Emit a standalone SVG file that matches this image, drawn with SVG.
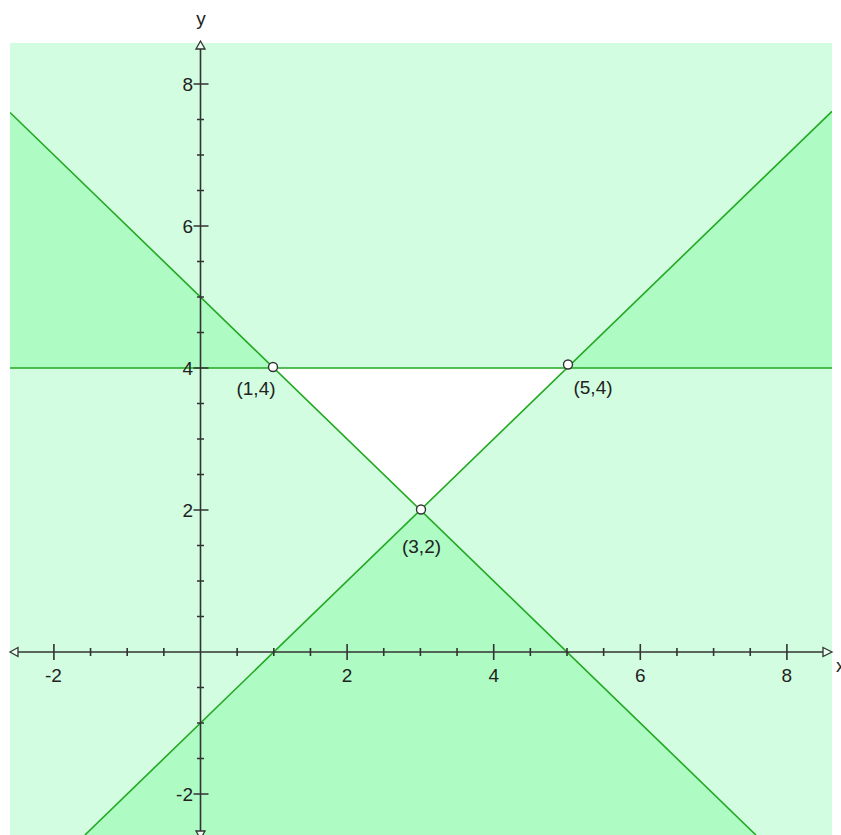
<svg xmlns="http://www.w3.org/2000/svg" width="841" height="835" viewBox="0 0 841 835">
<style>
.lbl{font-family:"Liberation Sans",Arial,sans-serif;font-size:19px;fill:#222}
.mid{text-anchor:middle}
.end{text-anchor:end}
.bound{stroke:#22a822;stroke-width:1.6;fill:none}
.axis{stroke:#333;stroke-width:1.6;fill:none}
.arrow{stroke:#333;stroke-width:1.3;fill:#e8fff0}
.pt{fill:#fff;stroke:#333;stroke-width:1.4}
</style>
<defs>
<clipPath id="plot"><rect x="10" y="43" width="822" height="792"/></clipPath>
</defs>
<rect width="841" height="835" fill="#fff"/>
<g id="regions" clip-path="url(#plot)">
<rect x="10" y="43" width="822" height="792" fill="#d3fde0"/>
<polygon points="273.8,368 567,368 420.4,510" fill="#fff"/>
<polygon points="10,112.5 273.8,368 10,368" fill="#aefbc4"/>
<polygon points="567,368 832,111.3 832,368" fill="#aefbc4"/>
<polygon points="420.4,510 755.9,835 84.9,835" fill="#aefbc4"/>
</g>
<g id="connectors" clip-path="url(#plot)">
<line class="bound" x1="10" y1="112.5" x2="755.9" y2="835"/>
<line class="bound" x1="84.9" y1="835" x2="832" y2="111.3"/>
<line class="bound" x1="10" y1="368" x2="832" y2="368"/>
</g>
<g id="axes">
<line class="axis" x1="12" y1="652" x2="830" y2="652"/>
<line class="axis" x1="200.5" y1="42" x2="200.5" y2="835"/>
<path class="axis" d="M53.9,644v16M347.1,644v16M493.7,644v16M640.3,644v16M786.9,644v16
M90.55,648v8M127.2,648v8M163.85,648v8M237.15,648v8M273.8,648v8M310.45,648v8M383.75,648v8M420.4,648v8M457.05,648v8M530.35,648v8M567,648v8M603.65,648v8M676.95,648v8M713.6,648v8M750.25,648v8
M193.5,794h15M193.5,510h15M193.5,368h15M193.5,226h15M193.5,84h15
M197,758.5h7M197,723h7M197,687.5h7M197,616.5h7M197,581h7M197,545.5h7M197,474.5h7M197,439h7M197,403.5h7M197,332.5h7M197,297h7M197,261.5h7M197,190.5h7M197,155h7M197,119.5h7"/>
<path class="arrow" d="M832,652L823,647.5L823,656.5Z"/>
<path class="arrow" d="M10,652L18,647.5L18,656.5Z"/>
<path class="arrow" d="M200.5,41L196,49L205,49Z"/>
<path class="arrow" d="M200.5,839L196,831L205,831Z"/>
<text class="lbl mid" x="201" y="25">y</text>
<text class="lbl" x="836" y="672">x</text>
<text class="lbl mid" x="53.5" y="682">-2</text>
<text class="lbl mid" x="347.1" y="682">2</text>
<text class="lbl mid" x="493.7" y="682">4</text>
<text class="lbl mid" x="640.3" y="682">6</text>
<text class="lbl mid" x="786.9" y="682">8</text>
<text class="lbl end" x="193" y="91">8</text>
<text class="lbl end" x="193" y="233">6</text>
<text class="lbl end" x="193" y="375">4</text>
<text class="lbl end" x="193" y="517">2</text>
<text class="lbl end" x="193" y="801">-2</text>
</g>
<g id="p14">
<circle class="pt" cx="273" cy="367" r="4.5"/>
<text class="lbl mid" x="256" y="395">(1,4)</text>
</g>
<g id="p32">
<circle class="pt" cx="421" cy="509.5" r="4.5"/>
<text class="lbl mid" x="421.5" y="553">(3,2)</text>
</g>
<g id="p54">
<circle class="pt" cx="568" cy="364.5" r="4.5"/>
<text class="lbl mid" x="593" y="394">(5,4)</text>
</g>
</svg>
